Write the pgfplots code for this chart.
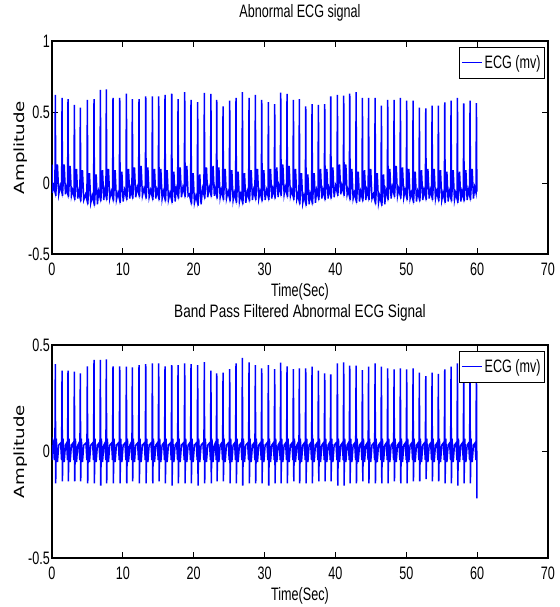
\documentclass[border=0pt]{standalone}
\usepackage{fontspec}
\setmainfont{Liberation Sans}[FakeStretch=0.7]
\newfontfamily\ylfont{DejaVu Sans}[FakeStretch=1.3]
\newfontfamily\widefont{Liberation Sans}[FakeStretch=0.755]
\usepackage{pgfplots}
\pgfplotsset{compat=1.18}
\definecolor{sigblue}{RGB}{0,0,255}
\newcommand{\lblfont}{\fontsize{18}{20}\selectfont}
\pgfplotsset{
  ecgaxis/.style={
    scale only axis, width=496pt, height=213pt,
    clip mode=individual,
    xmin=0, xmax=70,
    xtick={0,10,20,30,40,50,60,70},
    xticklabels={0,10,20,30,40,50,60,70},
    tick align=inside, tick pos=both,
    major tick length=6pt,
    every tick/.style={black, line width=0.8pt},
    axis line style={line width=1.3pt},
    ticklabel style={font=\lblfont},
    xticklabel style={anchor=north, inner sep=0pt, yshift=-9pt},
    yticklabel style={anchor=east, inner sep=0pt, xshift=-2pt},
    xlabel={Time(Sec)},
    xlabel style={font=\lblfont, at={(axis description cs:0.5,0)}, anchor=base, inner sep=0pt, yshift=-42.7pt},
    title style={font=\lblfont, at={(axis description cs:0.5,1)}, anchor=base, inner sep=0pt},
    legend style={at={(axis description cs:0.994,0.972)}, anchor=north east, draw=black, line width=0.8pt, font=\lblfont, inner xsep=2pt, inner ysep=6pt, fill=white},
    legend cell align=left,
    legend image code/.code={\draw[#1, sigblue, line width=1.3pt] (0pt,0pt) -- (20pt,0pt);},
    after end axis/.code={\node[rotate=90, anchor=base, inner sep=0pt, font=\ylfont\fontsize{14}{16}\selectfont] at ([xshift=-27pt]axis description cs:0,0.5) {Amplitude};},
  }
}
\begin{document}
\begin{tikzpicture}
\path[use as bounding box] (-52pt,-49pt) rectangle (507pt,558pt);
% ---------------- top axis ----------------
\begin{axis}[ecgaxis, at={(0pt,304pt)}, anchor=south west,
  ymin=-0.5, ymax=1,
  ytick={-0.5,0,0.5,1}, yticklabels={-0.5,0,0.5,1},
  title={Abnormal ECG signal}, title style={yshift=17.7pt}]
\addplot[sigblue, line width=1.5pt] table[row sep=\\] {
x y\\
0 0.13\\0.05 -0.07\\
0.22 -0.02\\0.41 -0.06\\0.47 0.62\\0.53 -0.09\\0.77 0.13\\0.95 -0.08\\
1.17 -0.02\\1.36 -0.06\\1.42 0.60\\1.48 -0.09\\1.72 0.13\\1.90 -0.08\\
2.01 -0.03\\2.20 -0.07\\2.26 0.59\\2.32 -0.10\\2.56 0.12\\2.74 -0.09\\
2.91 -0.05\\3.10 -0.09\\3.16 0.55\\3.22 -0.12\\3.46 0.10\\3.64 -0.11\\
3.75 -0.06\\3.94 -0.10\\4.00 0.53\\4.06 -0.13\\4.30 0.09\\4.48 -0.12\\
4.74 -0.08\\4.93 -0.12\\4.99 0.585\\5.05 -0.15\\5.29 0.07\\5.47 -0.14\\
5.68 -0.09\\5.87 -0.13\\5.93 0.59\\5.99 -0.16\\6.23 0.06\\6.41 -0.15\\
6.58 -0.06\\6.77 -0.10\\6.83 0.655\\6.89 -0.13\\7.13 0.09\\7.31 -0.12\\
7.42 -0.05\\7.61 -0.09\\7.67 0.66\\7.73 -0.12\\7.97 0.10\\8.15 -0.11\\
8.36 -0.06\\8.55 -0.10\\8.61 0.60\\8.67 -0.13\\8.91 0.09\\9.09 -0.12\\
9.31 -0.07\\9.50 -0.11\\9.56 0.60\\9.62 -0.14\\9.86 0.08\\10.04 -0.13\\
10.25 -0.05\\10.44 -0.09\\10.50 0.63\\10.56 -0.12\\10.80 0.10\\10.98 -0.11\\
11.09 -0.04\\11.28 -0.08\\11.34 0.59\\11.40 -0.11\\11.64 0.11\\11.82 -0.10\\
12.03 -0.03\\12.22 -0.07\\12.28 0.59\\12.34 -0.10\\12.58 0.12\\12.76 -0.09\\
12.98 -0.04\\13.17 -0.08\\13.23 0.61\\13.29 -0.11\\13.53 0.11\\13.71 -0.10\\
13.92 -0.05\\14.11 -0.09\\14.17 0.61\\14.23 -0.12\\14.47 0.10\\14.65 -0.11\\
14.81 -0.05\\15.00 -0.09\\15.06 0.61\\15.12 -0.12\\15.36 0.10\\15.54 -0.11\\
15.70 -0.06\\15.89 -0.10\\15.95 0.62\\16.01 -0.13\\16.25 0.09\\16.43 -0.12\\
16.65 -0.07\\16.84 -0.11\\16.90 0.63\\16.96 -0.14\\17.20 0.08\\17.38 -0.13\\
17.54 -0.04\\17.73 -0.08\\17.79 0.59\\17.85 -0.11\\18.09 0.11\\18.27 -0.10\\
18.48 -0.03\\18.67 -0.07\\18.73 0.64\\18.79 -0.10\\19.03 0.12\\19.21 -0.09\\
19.37 -0.08\\19.56 -0.12\\19.62 0.585\\19.68 -0.15\\19.92 0.07\\20.10 -0.14\\
20.31 -0.09\\20.50 -0.13\\20.56 0.57\\20.62 -0.16\\20.86 0.06\\21.04 -0.15\\
21.25 -0.04\\21.44 -0.08\\21.50 0.635\\21.56 -0.11\\21.80 0.11\\21.98 -0.10\\
22.18 -0.03\\22.37 -0.07\\22.43 0.627\\22.49 -0.10\\22.73 0.12\\22.91 -0.09\\
23.00 -0.04\\23.19 -0.08\\23.25 0.585\\23.31 -0.11\\23.55 0.11\\23.73 -0.10\\
23.89 -0.05\\24.08 -0.09\\24.14 0.54\\24.20 -0.12\\24.44 0.10\\24.62 -0.11\\
24.83 -0.06\\25.02 -0.10\\25.08 0.58\\25.14 -0.13\\25.38 0.09\\25.56 -0.12\\
25.72 -0.07\\25.91 -0.11\\25.97 0.60\\26.03 -0.14\\26.27 0.08\\26.45 -0.13\\
26.62 -0.08\\26.81 -0.12\\26.87 0.64\\26.93 -0.15\\27.17 0.07\\27.35 -0.14\\
27.56 -0.06\\27.75 -0.10\\27.81 0.60\\27.87 -0.13\\28.11 0.09\\28.29 -0.12\\
28.45 -0.05\\28.64 -0.09\\28.70 0.62\\28.76 -0.12\\29.00 0.10\\29.18 -0.11\\
29.35 -0.06\\29.54 -0.10\\29.60 0.585\\29.66 -0.13\\29.90 0.09\\30.08 -0.12\\
30.29 -0.05\\30.48 -0.09\\30.54 0.57\\30.60 -0.12\\30.84 0.10\\31.02 -0.11\\
31.18 -0.04\\31.37 -0.08\\31.43 0.556\\31.49 -0.11\\31.73 0.11\\31.91 -0.10\\
32.03 -0.02\\32.22 -0.06\\32.28 0.636\\32.34 -0.09\\32.58 0.13\\32.76 -0.08\\
32.92 -0.03\\33.11 -0.07\\33.17 0.627\\33.23 -0.10\\33.47 0.12\\33.65 -0.09\\
33.82 -0.05\\34.01 -0.09\\34.07 0.585\\34.13 -0.12\\34.37 0.10\\34.55 -0.11\\
34.66 -0.08\\34.85 -0.12\\34.91 0.59\\34.97 -0.15\\35.21 0.07\\35.39 -0.14\\
35.56 -0.09\\35.75 -0.13\\35.81 0.54\\35.87 -0.16\\36.11 0.06\\36.29 -0.15\\
36.45 -0.08\\36.64 -0.12\\36.70 0.556\\36.76 -0.15\\37.00 0.07\\37.18 -0.14\\
37.35 -0.05\\37.54 -0.09\\37.60 0.55\\37.66 -0.12\\37.90 0.10\\38.08 -0.11\\
38.24 -0.05\\38.43 -0.09\\38.49 0.556\\38.55 -0.12\\38.79 0.10\\38.97 -0.11\\
39.09 -0.04\\39.28 -0.08\\39.34 0.61\\39.40 -0.11\\39.64 0.11\\39.82 -0.10\\
40.03 -0.02\\40.22 -0.06\\40.28 0.62\\40.34 -0.09\\40.58 0.13\\40.76 -0.08\\
40.92 -0.02\\41.11 -0.06\\41.17 0.615\\41.23 -0.09\\41.47 0.13\\41.65 -0.08\\
41.77 -0.05\\41.96 -0.09\\42.02 0.63\\42.08 -0.12\\42.32 0.10\\42.50 -0.11\\
42.67 -0.07\\42.86 -0.11\\42.92 0.64\\42.98 -0.14\\43.22 0.08\\43.40 -0.13\\
43.56 -0.06\\43.75 -0.10\\43.81 0.60\\43.87 -0.13\\44.11 0.09\\44.29 -0.12\\
44.43 -0.05\\44.62 -0.09\\44.68 0.60\\44.74 -0.12\\44.98 0.10\\45.16 -0.11\\
45.35 -0.08\\45.54 -0.12\\45.60 0.60\\45.66 -0.15\\45.90 0.07\\46.08 -0.14\\
46.24 -0.09\\46.43 -0.13\\46.49 0.544\\46.55 -0.16\\46.79 0.06\\46.97 -0.15\\
47.13 -0.05\\47.32 -0.09\\47.38 0.586\\47.44 -0.12\\47.68 0.10\\47.86 -0.11\\
48.03 -0.03\\48.22 -0.07\\48.28 0.586\\48.34 -0.10\\48.58 0.12\\48.76 -0.09\\
48.92 -0.04\\49.11 -0.08\\49.17 0.60\\49.23 -0.11\\49.47 0.11\\49.65 -0.10\\
49.81 -0.05\\50.00 -0.09\\50.06 0.58\\50.12 -0.12\\50.36 0.10\\50.54 -0.11\\
50.71 -0.07\\50.90 -0.11\\50.96 0.58\\51.02 -0.14\\51.26 0.08\\51.44 -0.13\\
51.60 -0.06\\51.79 -0.10\\51.85 0.53\\51.91 -0.13\\52.15 0.09\\52.33 -0.12\\
52.50 -0.05\\52.69 -0.09\\52.75 0.526\\52.81 -0.12\\53.05 0.10\\53.23 -0.11\\
53.39 -0.05\\53.58 -0.09\\53.64 0.544\\53.70 -0.12\\53.94 0.10\\54.12 -0.11\\
54.28 -0.06\\54.47 -0.10\\54.53 0.544\\54.59 -0.13\\54.83 0.09\\55.01 -0.12\\
55.18 -0.07\\55.37 -0.11\\55.43 0.567\\55.49 -0.14\\55.73 0.08\\55.91 -0.13\\
56.07 -0.06\\56.26 -0.10\\56.32 0.58\\56.38 -0.13\\56.62 0.09\\56.80 -0.12\\
56.97 -0.07\\57.16 -0.11\\57.22 0.60\\57.28 -0.14\\57.52 0.08\\57.70 -0.13\\
57.86 -0.06\\58.05 -0.10\\58.11 0.56\\58.17 -0.13\\58.41 0.09\\58.59 -0.12\\
58.75 -0.05\\58.94 -0.09\\59.00 0.58\\59.06 -0.12\\59.30 0.10\\59.48 -0.11\\
59.65 -0.03\\59.84 -0.07\\59.90 0.563\\59.96 -0.06\\
};
\addlegendentry{ECG (mv)}
\end{axis}
% ---------------- bottom axis ----------------
\begin{axis}[ecgaxis, at={(0pt,0pt)}, anchor=south west,
  ymin=-0.5, ymax=0.5,
  ytick={-0.5,0,0.5}, yticklabels={-0.5,0,0.5},
  title={\widefont Band Pass Filtered Abnormal ECG Signal}, title style={yshift=21pt}]
\addplot[sigblue, line width=1.5pt] table[row sep=\\] {
x y\\
0 0.03\\0.08 -0.04\\0.16 0.05\\
0.27 0.04\\0.40 -0.04\\0.47 0.41\\0.52 -0.15\\0.61 0.06\\0.77 -0.05\\0.95 0.03\\
1.22 0.04\\1.35 -0.04\\1.42 0.38\\1.47 -0.14\\1.56 0.06\\1.72 -0.05\\1.90 0.03\\
2.06 0.04\\2.19 -0.04\\2.26 0.38\\2.31 -0.14\\2.40 0.06\\2.56 -0.05\\2.74 0.03\\
2.96 0.04\\3.09 -0.04\\3.16 0.375\\3.21 -0.14\\3.30 0.06\\3.46 -0.05\\3.64 0.03\\
3.80 0.04\\3.93 -0.04\\4.00 0.367\\4.05 -0.14\\4.14 0.06\\4.30 -0.05\\4.48 0.03\\
4.79 0.04\\4.92 -0.04\\4.99 0.40\\5.04 -0.15\\5.13 0.06\\5.29 -0.05\\5.47 0.03\\
5.73 0.04\\5.86 -0.04\\5.93 0.43\\5.98 -0.15\\6.07 0.06\\6.23 -0.05\\6.41 0.03\\
6.63 0.04\\6.76 -0.04\\6.83 0.43\\6.88 -0.16\\6.97 0.06\\7.13 -0.05\\7.31 0.03\\
7.47 0.04\\7.60 -0.04\\7.67 0.433\\7.72 -0.15\\7.81 0.06\\7.97 -0.05\\8.15 0.03\\
8.41 0.04\\8.54 -0.04\\8.61 0.40\\8.66 -0.15\\8.75 0.06\\8.91 -0.05\\9.09 0.03\\
9.36 0.04\\9.49 -0.04\\9.56 0.40\\9.61 -0.15\\9.70 0.06\\9.86 -0.05\\10.04 0.03\\
10.30 0.04\\10.43 -0.04\\10.50 0.398\\10.55 -0.15\\10.64 0.06\\10.80 -0.05\\10.98 0.03\\
11.14 0.04\\11.27 -0.04\\11.34 0.395\\11.39 -0.14\\11.48 0.06\\11.64 -0.05\\11.82 0.03\\
12.08 0.04\\12.21 -0.04\\12.28 0.406\\12.33 -0.15\\12.42 0.06\\12.58 -0.05\\12.76 0.03\\
13.03 0.04\\13.16 -0.04\\13.23 0.41\\13.28 -0.15\\13.37 0.06\\13.53 -0.05\\13.71 0.03\\
13.97 0.04\\14.10 -0.04\\14.17 0.414\\14.22 -0.15\\14.31 0.06\\14.47 -0.05\\14.65 0.03\\
14.86 0.04\\14.99 -0.04\\15.06 0.414\\15.11 -0.14\\15.20 0.06\\15.36 -0.05\\15.54 0.03\\
15.75 0.04\\15.88 -0.04\\15.95 0.40\\16.00 -0.15\\16.09 0.06\\16.25 -0.05\\16.43 0.03\\
16.70 0.04\\16.83 -0.04\\16.90 0.406\\16.95 -0.16\\17.04 0.06\\17.20 -0.05\\17.38 0.03\\
17.59 0.04\\17.72 -0.04\\17.79 0.406\\17.84 -0.15\\17.93 0.06\\18.09 -0.05\\18.27 0.03\\
18.53 0.04\\18.66 -0.04\\18.73 0.414\\18.78 -0.15\\18.87 0.06\\19.03 -0.05\\19.21 0.03\\
19.42 0.04\\19.55 -0.04\\19.62 0.41\\19.67 -0.15\\19.76 0.06\\19.92 -0.05\\20.10 0.03\\
20.36 0.04\\20.49 -0.04\\20.56 0.406\\20.61 -0.16\\20.70 0.06\\20.86 -0.05\\21.04 0.03\\
21.30 0.04\\21.43 -0.04\\21.50 0.42\\21.55 -0.15\\21.64 0.06\\21.80 -0.05\\21.98 0.03\\
22.23 0.04\\22.36 -0.04\\22.43 0.38\\22.48 -0.15\\22.57 0.06\\22.73 -0.05\\22.91 0.03\\
23.05 0.04\\23.18 -0.04\\23.25 0.367\\23.30 -0.14\\23.39 0.06\\23.55 -0.05\\23.73 0.03\\
23.94 0.04\\24.07 -0.04\\24.14 0.37\\24.19 -0.14\\24.28 0.06\\24.44 -0.05\\24.62 0.03\\
24.88 0.04\\25.01 -0.04\\25.08 0.387\\25.13 -0.15\\25.22 0.06\\25.38 -0.05\\25.56 0.03\\
25.77 0.04\\25.90 -0.04\\25.97 0.414\\26.02 -0.15\\26.11 0.06\\26.27 -0.05\\26.45 0.03\\
26.67 0.04\\26.80 -0.04\\26.87 0.44\\26.92 -0.16\\27.01 0.06\\27.17 -0.05\\27.35 0.03\\
27.61 0.04\\27.74 -0.04\\27.81 0.418\\27.86 -0.15\\27.95 0.06\\28.11 -0.05\\28.29 0.03\\
28.50 0.04\\28.63 -0.04\\28.70 0.406\\28.75 -0.15\\28.84 0.06\\29.00 -0.05\\29.18 0.03\\
29.40 0.04\\29.53 -0.04\\29.60 0.39\\29.65 -0.15\\29.74 0.06\\29.90 -0.05\\30.08 0.03\\
30.34 0.04\\30.47 -0.04\\30.54 0.406\\30.59 -0.16\\30.68 0.06\\30.84 -0.05\\31.02 0.03\\
31.23 0.04\\31.36 -0.04\\31.43 0.387\\31.48 -0.15\\31.57 0.06\\31.73 -0.05\\31.91 0.03\\
32.08 0.04\\32.21 -0.04\\32.28 0.417\\32.33 -0.15\\32.42 0.06\\32.58 -0.05\\32.76 0.03\\
32.97 0.04\\33.10 -0.04\\33.17 0.40\\33.22 -0.15\\33.31 0.06\\33.47 -0.05\\33.65 0.03\\
33.87 0.04\\34.00 -0.04\\34.07 0.387\\34.12 -0.14\\34.21 0.06\\34.37 -0.05\\34.55 0.03\\
34.71 0.04\\34.84 -0.04\\34.91 0.39\\34.96 -0.15\\35.05 0.06\\35.21 -0.05\\35.39 0.03\\
35.61 0.04\\35.74 -0.04\\35.81 0.39\\35.86 -0.15\\35.95 0.06\\36.11 -0.05\\36.29 0.03\\
36.50 0.04\\36.63 -0.04\\36.70 0.398\\36.75 -0.15\\36.84 0.06\\37.00 -0.05\\37.18 0.03\\
37.40 0.04\\37.53 -0.04\\37.60 0.38\\37.65 -0.14\\37.74 0.06\\37.90 -0.05\\38.08 0.03\\
38.29 0.04\\38.42 -0.04\\38.49 0.367\\38.54 -0.14\\38.63 0.06\\38.79 -0.05\\38.97 0.03\\
39.14 0.04\\39.27 -0.04\\39.34 0.362\\39.39 -0.14\\39.48 0.06\\39.64 -0.05\\39.82 0.03\\
40.08 0.04\\40.21 -0.04\\40.28 0.414\\40.33 -0.16\\40.42 0.06\\40.58 -0.05\\40.76 0.03\\
40.97 0.04\\41.10 -0.04\\41.17 0.418\\41.22 -0.16\\41.31 0.06\\41.47 -0.05\\41.65 0.03\\
41.82 0.04\\41.95 -0.04\\42.02 0.403\\42.07 -0.15\\42.16 0.06\\42.32 -0.05\\42.50 0.03\\
42.72 0.04\\42.85 -0.04\\42.92 0.403\\42.97 -0.15\\43.06 0.06\\43.22 -0.05\\43.40 0.03\\
43.61 0.04\\43.74 -0.04\\43.81 0.382\\43.86 -0.14\\43.95 0.06\\44.11 -0.05\\44.29 0.03\\
44.48 0.04\\44.61 -0.04\\44.68 0.398\\44.73 -0.15\\44.82 0.06\\44.98 -0.05\\45.16 0.03\\
45.40 0.04\\45.53 -0.04\\45.60 0.414\\45.65 -0.15\\45.74 0.06\\45.90 -0.05\\46.08 0.03\\
46.29 0.04\\46.42 -0.04\\46.49 0.398\\46.54 -0.15\\46.63 0.06\\46.79 -0.05\\46.97 0.03\\
47.18 0.04\\47.31 -0.04\\47.38 0.39\\47.43 -0.15\\47.52 0.06\\47.68 -0.05\\47.86 0.03\\
48.08 0.04\\48.21 -0.04\\48.28 0.386\\48.33 -0.14\\48.42 0.06\\48.58 -0.05\\48.76 0.03\\
48.97 0.04\\49.10 -0.04\\49.17 0.39\\49.22 -0.15\\49.31 0.06\\49.47 -0.05\\49.65 0.03\\
49.86 0.04\\49.99 -0.04\\50.06 0.386\\50.11 -0.15\\50.20 0.06\\50.36 -0.05\\50.54 0.03\\
50.76 0.04\\50.89 -0.04\\50.96 0.39\\51.01 -0.14\\51.10 0.06\\51.26 -0.05\\51.44 0.03\\
51.65 0.04\\51.78 -0.04\\51.85 0.37\\51.90 -0.14\\51.99 0.06\\52.15 -0.05\\52.33 0.03\\
52.55 0.04\\52.68 -0.04\\52.75 0.354\\52.80 -0.13\\52.89 0.06\\53.05 -0.05\\53.23 0.03\\
53.44 0.04\\53.57 -0.04\\53.64 0.37\\53.69 -0.14\\53.78 0.06\\53.94 -0.05\\54.12 0.03\\
54.33 0.04\\54.46 -0.04\\54.53 0.364\\54.58 -0.14\\54.67 0.06\\54.83 -0.05\\55.01 0.03\\
55.23 0.04\\55.36 -0.04\\55.43 0.386\\55.48 -0.15\\55.57 0.06\\55.73 -0.05\\55.91 0.03\\
56.12 0.04\\56.25 -0.04\\56.32 0.398\\56.37 -0.15\\56.46 0.06\\56.62 -0.05\\56.80 0.03\\
57.02 0.04\\57.15 -0.04\\57.22 0.414\\57.27 -0.16\\57.36 0.06\\57.52 -0.05\\57.70 0.03\\
57.91 0.04\\58.04 -0.04\\58.11 0.40\\58.16 -0.15\\58.25 0.06\\58.41 -0.05\\58.59 0.03\\
58.80 0.04\\58.93 -0.04\\59.00 0.40\\59.05 -0.15\\59.14 0.06\\59.30 -0.05\\59.48 0.03\\
59.70 0.04\\59.83 -0.04\\59.90 0.40\\59.97 -0.22\\
};
\addlegendentry{ECG (mv)}
\end{axis}
\end{tikzpicture}
\end{document}
